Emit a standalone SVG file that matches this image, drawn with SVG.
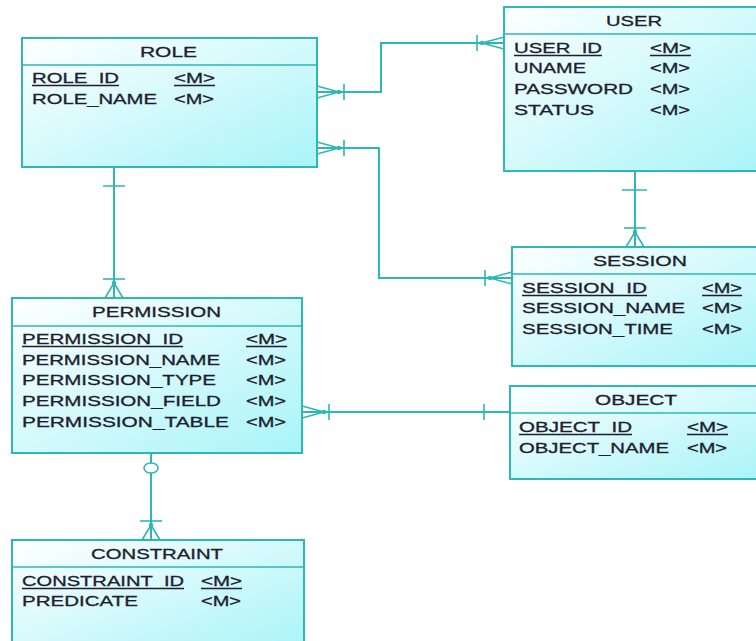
<svg xmlns="http://www.w3.org/2000/svg" xmlns:xlink="http://www.w3.org/1999/xlink" width="756" height="641" viewBox="0 0 756 641">
<style>
.box{fill:url(#g);stroke:#2db7b5;stroke-width:2}
.div{stroke:#2db7b5;stroke-width:1.5}
.t{font-family:"Liberation Sans",Arial,sans-serif;font-size:14px;fill:#1e1e30;stroke:#1e1e30;stroke-width:0.3}
.ul{stroke:#1e1e30;stroke-width:1.3}
.c{fill:none;stroke:#2db7b5;stroke-width:2}
.cf{fill:none;stroke:#2db7b5;stroke-width:1.6}
.dot{fill:#2db7b5}
</style>
<defs>
<linearGradient id="g" x1="0" y1="0" x2="1" y2="1">
<stop offset="0" stop-color="#ffffff"/>
<stop offset="1" stop-color="#a8f4f8"/>
</linearGradient>
<g id="cfH">
<path class="cf" d="M0,-6 L-22,0 M0,6 L-22,0 M0,0 H-22"/>
<circle class="dot" cx="-22" cy="0" r="2.2"/>
<path class="cf" d="M-27,-8 V8"/>
</g>
<g id="cfV">
<path class="cf" d="M-9,0 L0,-15 M9,0 L0,-15 M0,0 V-15"/>
<circle class="dot" cx="0" cy="-15" r="2.2"/>
<path class="cf" d="M-11,-19 H11"/>
</g>
</defs>
<rect width="756" height="641" fill="#ffffff"/>

<g id="connectors">
<path class="c" d="M317,92 H381 V43 H504"/>
<path class="c" d="M317,148 H379 V278 H512"/>
<path class="c" d="M635,171 V247"/>
<path class="c" d="M114,167 V298"/>
<path class="c" d="M302,412 H510"/>
<path class="c" d="M151,453 V540"/>
<use xlink:href="#cfH" transform="translate(317,92) scale(-1,1)"/>
<use xlink:href="#cfH" transform="translate(317,148) scale(-1,1)"/>
<use xlink:href="#cfH" transform="translate(504,43)"/>
<use xlink:href="#cfH" transform="translate(512,278)"/>
<use xlink:href="#cfH" transform="translate(302,412) scale(-1,1)"/>
<use xlink:href="#cfV" transform="translate(635,247)"/>
<use xlink:href="#cfV" transform="translate(114,298)"/>
<use xlink:href="#cfV" transform="translate(151,540)"/>
<path class="cf" d="M622,190 H647 M103,186 H125 M484,404 V420"/>
<ellipse cx="151" cy="468" rx="7" ry="5" fill="#ffffff" stroke="#2db7b5" stroke-width="1.6"/>
</g>

<g id="role">
<rect class="box" x="22" y="38" width="295" height="129"/>
<line class="div" x1="22" y1="65" x2="317" y2="65"/>
<text class="t" x="140" y="57" textLength="57" lengthAdjust="spacingAndGlyphs">ROLE</text>
<text class="t" x="32" y="83" textLength="87" lengthAdjust="spacingAndGlyphs">ROLE_ID</text>
<text class="t" x="174" y="83" textLength="41" lengthAdjust="spacingAndGlyphs">&lt;M&gt;</text>
<line class="ul" x1="32" y1="85.5" x2="119" y2="85.5"/>
<line class="ul" x1="174" y1="85.5" x2="215" y2="85.5"/>
<text class="t" x="32" y="104" textLength="125" lengthAdjust="spacingAndGlyphs">ROLE_NAME</text>
<text class="t" x="174" y="104" textLength="40" lengthAdjust="spacingAndGlyphs">&lt;M&gt;</text>
</g>

<g id="user">
<rect class="box" x="504" y="7" width="260" height="164"/>
<line class="div" x1="504" y1="34" x2="764" y2="34"/>
<text class="t" x="606" y="26" textLength="56" lengthAdjust="spacingAndGlyphs">USER</text>
<text class="t" x="514" y="53" textLength="88" lengthAdjust="spacingAndGlyphs">USER_ID</text>
<text class="t" x="650" y="53" textLength="41" lengthAdjust="spacingAndGlyphs">&lt;M&gt;</text>
<line class="ul" x1="514" y1="55.5" x2="602" y2="55.5"/>
<line class="ul" x1="650" y1="55.5" x2="691" y2="55.5"/>
<text class="t" x="514" y="73" textLength="72" lengthAdjust="spacingAndGlyphs">UNAME</text>
<text class="t" x="650" y="73" textLength="40" lengthAdjust="spacingAndGlyphs">&lt;M&gt;</text>
<text class="t" x="514" y="94" textLength="119" lengthAdjust="spacingAndGlyphs">PASSWORD</text>
<text class="t" x="650" y="94" textLength="40" lengthAdjust="spacingAndGlyphs">&lt;M&gt;</text>
<text class="t" x="514" y="115" textLength="80" lengthAdjust="spacingAndGlyphs">STATUS</text>
<text class="t" x="650" y="115" textLength="40" lengthAdjust="spacingAndGlyphs">&lt;M&gt;</text>
</g>

<g id="session">
<rect class="box" x="512" y="247" width="252" height="119"/>
<line class="div" x1="512" y1="274" x2="764" y2="274"/>
<text class="t" x="593" y="266" textLength="94" lengthAdjust="spacingAndGlyphs">SESSION</text>
<text class="t" x="522" y="293" textLength="125" lengthAdjust="spacingAndGlyphs">SESSION_ID</text>
<text class="t" x="702" y="293" textLength="40" lengthAdjust="spacingAndGlyphs">&lt;M&gt;</text>
<line class="ul" x1="522" y1="295.5" x2="647" y2="295.5"/>
<line class="ul" x1="702" y1="295.5" x2="742" y2="295.5"/>
<text class="t" x="522" y="313" textLength="163" lengthAdjust="spacingAndGlyphs">SESSION_NAME</text>
<text class="t" x="702" y="313" textLength="40" lengthAdjust="spacingAndGlyphs">&lt;M&gt;</text>
<text class="t" x="522" y="334" textLength="151" lengthAdjust="spacingAndGlyphs">SESSION_TIME</text>
<text class="t" x="702" y="334" textLength="40" lengthAdjust="spacingAndGlyphs">&lt;M&gt;</text>
</g>

<g id="permission">
<rect class="box" x="12" y="298" width="290" height="155"/>
<line class="div" x1="12" y1="326" x2="302" y2="326"/>
<text class="t" x="92" y="317" textLength="129" lengthAdjust="spacingAndGlyphs">PERMISSION</text>
<text class="t" x="22" y="344" textLength="161" lengthAdjust="spacingAndGlyphs">PERMISSION_ID</text>
<text class="t" x="246" y="344" textLength="41" lengthAdjust="spacingAndGlyphs">&lt;M&gt;</text>
<line class="ul" x1="22" y1="346.5" x2="183" y2="346.5"/>
<line class="ul" x1="246" y1="346.5" x2="287" y2="346.5"/>
<text class="t" x="22" y="365" textLength="198" lengthAdjust="spacingAndGlyphs">PERMISSION_NAME</text>
<text class="t" x="246" y="365" textLength="40" lengthAdjust="spacingAndGlyphs">&lt;M&gt;</text>
<text class="t" x="22" y="385" textLength="194" lengthAdjust="spacingAndGlyphs">PERMISSION_TYPE</text>
<text class="t" x="246" y="385" textLength="40" lengthAdjust="spacingAndGlyphs">&lt;M&gt;</text>
<text class="t" x="22" y="406" textLength="199" lengthAdjust="spacingAndGlyphs">PERMISSION_FIELD</text>
<text class="t" x="246" y="406" textLength="40" lengthAdjust="spacingAndGlyphs">&lt;M&gt;</text>
<text class="t" x="22" y="427" textLength="207" lengthAdjust="spacingAndGlyphs">PERMISSION_TABLE</text>
<text class="t" x="246" y="427" textLength="40" lengthAdjust="spacingAndGlyphs">&lt;M&gt;</text>
</g>

<g id="object">
<rect class="box" x="510" y="386" width="254" height="93"/>
<line class="div" x1="510" y1="413" x2="764" y2="413"/>
<text class="t" x="595" y="405" textLength="82" lengthAdjust="spacingAndGlyphs">OBJECT</text>
<text class="t" x="519" y="432" textLength="113" lengthAdjust="spacingAndGlyphs">OBJECT_ID</text>
<text class="t" x="687" y="432" textLength="41" lengthAdjust="spacingAndGlyphs">&lt;M&gt;</text>
<line class="ul" x1="519" y1="434.5" x2="632" y2="434.5"/>
<line class="ul" x1="687" y1="434.5" x2="728" y2="434.5"/>
<text class="t" x="519" y="453" textLength="150" lengthAdjust="spacingAndGlyphs">OBJECT_NAME</text>
<text class="t" x="687" y="453" textLength="40" lengthAdjust="spacingAndGlyphs">&lt;M&gt;</text>
</g>

<g id="constraint">
<rect class="box" x="12" y="540" width="292" height="110"/>
<line class="div" x1="12" y1="567" x2="304" y2="567"/>
<text class="t" x="91" y="559" textLength="132" lengthAdjust="spacingAndGlyphs">CONSTRAINT</text>
<text class="t" x="22" y="586" textLength="162" lengthAdjust="spacingAndGlyphs">CONSTRAINT_ID</text>
<text class="t" x="201" y="586" textLength="41" lengthAdjust="spacingAndGlyphs">&lt;M&gt;</text>
<line class="ul" x1="22" y1="588.5" x2="184" y2="588.5"/>
<line class="ul" x1="201" y1="588.5" x2="242" y2="588.5"/>
<text class="t" x="22" y="606" textLength="116" lengthAdjust="spacingAndGlyphs">PREDICATE</text>
<text class="t" x="201" y="606" textLength="40" lengthAdjust="spacingAndGlyphs">&lt;M&gt;</text>
</g>
</svg>
